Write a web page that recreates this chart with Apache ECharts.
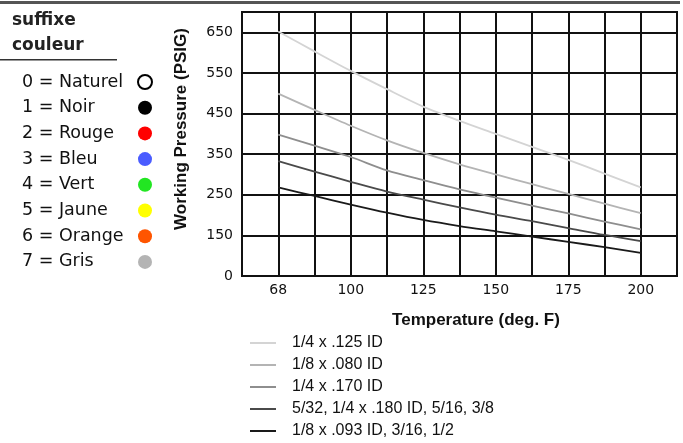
<!DOCTYPE html>
<html>
<head>
<meta charset="utf-8">
<script src="https://cdn.jsdelivr.net/npm/echarts@6/dist/echarts.min.js"></script>
<style>
html,body{margin:0;padding:0;background:#fff;}
#chart{width:683px;height:443px;}
</style>
</head>
<body>
<div id="chart"></div>
<script>
// X positions (categories, evenly spaced as in the reference) and shown tick labels
const xCategories = ['56', '68', '84', '100', '112.5', '125', '137.5', '150', '162.5', '175', '187.5', '200', '212.5'];
const xTickLabels = ['68', '100', '125', '150', '175', '200'];
// Y axis: broken axis, bottom labelled 0
const yTickValues = [50, 150, 250, 350, 450, 550, 650];
const yTickLabels = ['0', '150', '250', '350', '450', '550', '650'];

const seriesNames = [
  '1/4 x .125 ID',
  '1/8 x .080 ID',
  '1/4 x .170 ID',
  '5/32, 1/4 x .180 ID, 5/16, 3/8',
  '1/8 x .093 ID, 3/16, 1/2'
];
const seriesColors = ['#d4d4d4', '#b4b4b4', '#8e8e8e', '#4a4a4a', '#1a1a1a'];
const s1 = [null, 652, 603, 555, 510, 467, 432, 400, 368, 336, 302, 268, null];
const s2 = [null, 499, 459, 420, 384, 353, 325, 300, 276, 252, 228, 205, null];
const s3 = [null, 398, 371, 343, 310, 286, 263, 243, 223, 204, 184, 165, null];
const s4 = [null, 333, 307, 282, 258, 238, 219, 201, 185, 168, 151, 136, null];
const s5 = [null, 268, 247, 226, 206, 188, 173, 160, 147, 134, 121, 107, null];
const seriesValues = [s1, s2, s3, s4, s5];

// Colour suffix legend
const suffixLabels = ['0 = Naturel', '1 = Noir', '2 = Rouge', '3 = Bleu', '4 = Vert', '5 = Jaune', '6 = Orange', '7 = Gris'];
const suffixColors = ['#ffffff', '#000000', '#ff0000', '#4a5cff', '#22e622', '#ffff00', '#ff5500', '#b4b4b4'];

const chart = echarts.init(document.getElementById('chart'), null, {renderer: 'canvas'});

const graphics = [
  {type: 'rect', shape: {x: 0, y: 1, width: 680, height: 3}, style: {fill: '#555'}, silent: true},
  {type: 'text', x: 12, y: 21, style: {text: 'suffixe', font: 'bold 17px "DejaVu Sans"', fill: '#222', verticalAlign: 'middle'}},
  {type: 'text', x: 12, y: 46, style: {text: 'couleur', font: 'bold 17px "DejaVu Sans"', fill: '#222', verticalAlign: 'middle'}},
  {type: 'rect', shape: {x: 0, y: 59, width: 117, height: 1.5}, style: {fill: '#333'}, silent: true},
  {type: 'text', x: 181, y: 129, rotation: Math.PI / 2,
   style: {text: 'Working Pressure (PSIG)', font: 'bold 17px "Liberation Sans"', fill: '#111', align: 'center', verticalAlign: 'middle'}},
  {type: 'text', x: 476, y: 320,
   style: {text: 'Temperature (deg. F)', font: 'bold 17px "Liberation Sans"', fill: '#111', align: 'center', verticalAlign: 'middle'}}
];
suffixLabels.forEach((lab, i) => {
  const y = 82 + i * 25.7;
  graphics.push({type: 'text', x: 22, y: y,
    style: {text: lab, font: '17.5px "DejaVu Sans"', fill: '#111', verticalAlign: 'middle', align: 'left'}});
  graphics.push({type: 'circle', shape: {cx: 145, cy: y, r: 7},
    style: {fill: suffixColors[i], stroke: i === 0 ? '#000' : null, lineWidth: i === 0 ? 2 : 0}});
});

const option = {
  animation: false,
  backgroundColor: '#fff',
  grid: {left: 242, top: 12, right: 6, bottom: 167, show: true, borderColor: '#111', borderWidth: 2},
  xAxis: {
    type: 'category',
    data: xCategories,
    boundaryGap: false,
    axisLine: {lineStyle: {color: '#111', width: 2}},
    axisTick: {show: false},
    splitLine: {show: true, interval: 0, lineStyle: {color: '#111', width: 2}},
    axisLabel: {
      interval: (idx, val) => xTickLabels.indexOf(val) >= 0,
      margin: 7, color: '#111', fontFamily: 'DejaVu Sans', fontSize: 14
    }
  },
  yAxis: {
    type: 'value',
    min: 50, max: 700, interval: 100,
    axisLine: {show: true, lineStyle: {color: '#111', width: 2}},
    axisTick: {show: false},
    splitLine: {show: true, lineStyle: {color: '#111', width: 2}},
    axisLabel: {
      margin: 9, color: '#111', fontFamily: 'DejaVu Sans', fontSize: 14,
      formatter: v => { const k = yTickValues.indexOf(v); return k >= 0 ? yTickLabels[k] : ''; }
    }
  },
  legend: {
    orient: 'vertical', left: 250, top: 335, padding: 0,
    icon: 'rect', itemWidth: 26, itemHeight: 2, itemGap: 6,
    textStyle: {color: '#111', fontFamily: 'Liberation Sans', fontSize: 16, lineHeight: 16, padding: [0, 0, 0, 11]},
    data: seriesNames
  },
  graphic: graphics,
  series: seriesNames.map((n, i) => ({
    name: n, type: 'line', data: seriesValues[i], smooth: 0.3,
    symbol: 'none', connectNulls: false,
    lineStyle: {color: seriesColors[i], width: 1.8},
    itemStyle: {color: seriesColors[i]}
  }))
};
chart.setOption(option);
</script>
</body>
</html>
